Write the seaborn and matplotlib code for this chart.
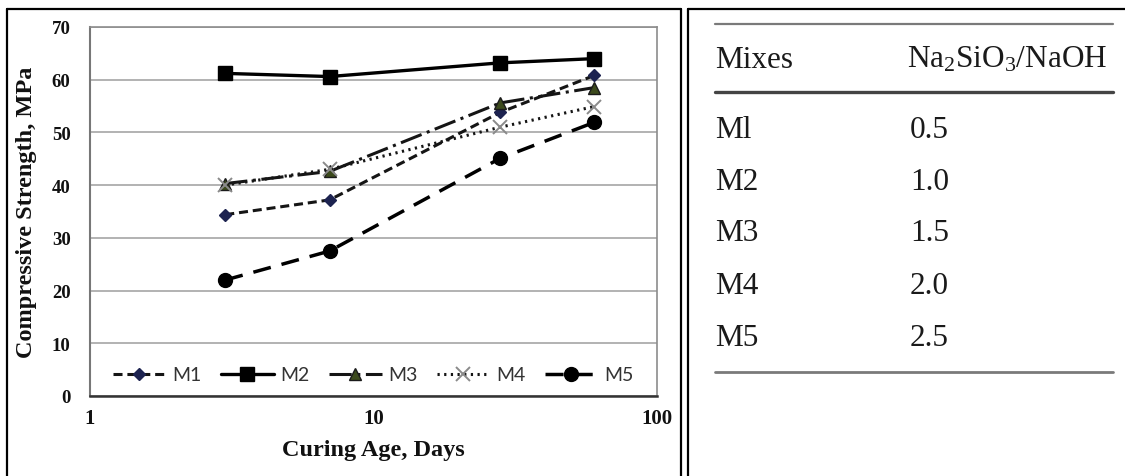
import matplotlib
matplotlib.use("Agg")
import matplotlib.pyplot as plt
from matplotlib.lines import Line2D
from matplotlib.ticker import FixedLocator, FixedFormatter, NullFormatter, LogLocator
import seaborn as sns
import pandas as pd

# Curing ages (days) and compressive strength (MPa) per mix
ages = [3, 7, 28, 60]
mixes = ["M1", "M2", "M3", "M4", "M5"]
m1 = [34.4, 37.2, 53.8, 60.8]
m2 = [61.2, 60.6, 63.2, 64.0]
m3 = [40.3, 42.6, 55.6, 58.5]
m4 = [40.0, 43.0, 51.0, 54.9]
m5 = [22.0, 27.5, 45.1, 51.9]

# Mix-design table
table_mixes = ["Ml", "M2", "M3", "M4", "M5"]
table_ratio = ["0.5", "1.0", "1.5", "2.0", "2.5"]

sns.set_style("white")
plt.rcParams["font.family"] = ["Liberation Serif", "DejaVu Serif"]
plt.rcParams["mathtext.fontset"] = "custom"
plt.rcParams["mathtext.rm"] = "Liberation Serif"
plt.rcParams["mathtext.it"] = "Liberation Serif:italic"
plt.rcParams["lines.scale_dashes"] = False

W, H = 1125, 477
fig = plt.figure(figsize=(W / 100, H / 100), dpi=100)
fig.patch.set_facecolor("white")


def fx(px):
    return px / W


def fy(py):
    return 1 - py / H


ax = fig.add_axes([fx(90), fy(397), fx(657) - fx(90), fy(28) - fy(397)])

df = pd.DataFrame({
    "age": ages * 5,
    "strength": m1 + m2 + m3 + m4 + m5,
    "mix": [m for m in mixes for _ in ages],
})

styles = {
    "M1": dict(color="#151515", linestyle=(0, (6.5, 3.5)), lw=2.2, marker="D", ms=6,
               markerfacecolor="#1d2350", markeredgecolor="#1d2350"),
    "M2": dict(color="#000000", linestyle="-", lw=2.4, marker="s", ms=10,
               markerfacecolor="#000000", markeredgecolor="#000000"),
    "M3": dict(color="#151515", linestyle=(0, (16, 4, 2.2, 4)), lw=2.2, marker="^", ms=9,
               markerfacecolor="#3c4a1c", markeredgecolor="#1a1a1a"),
    "M4": dict(color="#151515", linestyle=(0, (1.6, 3.2)), lw=2.2, marker="x", ms=10,
               markerfacecolor="#888888", markeredgecolor="#8a8a8a"),
    "M5": dict(color="#000000", linestyle=(0, (13, 8)), lw=2.5, marker="o", ms=10,
               markerfacecolor="#000000", markeredgecolor="#000000"),
}

for mix in mixes:
    st = styles[mix]
    sub = df[df["mix"] == mix]
    sns.lineplot(data=sub, x="age", y="strength", ax=ax, label=mix,
                 color=st["color"], linestyle=st["linestyle"], linewidth=st["lw"],
                 marker=st["marker"], markersize=st["ms"],
                 markerfacecolor=st["markerfacecolor"],
                 markeredgecolor=st["markeredgecolor"],
                 markeredgewidth=1.4 if mix == "M4" else 1.0,
                 errorbar=None, zorder=3)

ax.set_xscale("log")
ax.set_xlim(1, 100)
ax.set_ylim(0, 70)
ax.xaxis.set_major_locator(FixedLocator([1, 10, 100]))
ax.xaxis.set_major_formatter(FixedFormatter(["1", "10", "100"]))
ax.xaxis.set_minor_locator(LogLocator(base=10, subs=range(2, 10)))
ax.xaxis.set_minor_formatter(NullFormatter())
ax.set_yticks(range(0, 71, 10))

ax.tick_params(axis="x", which="both", direction="in", length=4, width=1,
               color="#555555", pad=9)
ax.tick_params(axis="x", which="major", labelsize=15)
ax.tick_params(axis="y", direction="out", length=5, width=1, color="#777777",
               labelsize=13.5, pad=9)
for lab in ax.get_xticklabels() + ax.get_yticklabels():
    lab.set_fontweight("bold")
    lab.set_color("#111111")

ax.yaxis.grid(True, color="#a5a5a5", linewidth=1.2, zorder=0)
ax.xaxis.grid(False)
ax.set_axisbelow(True)

for side in ["top", "right"]:
    ax.spines[side].set_color("#8c8c8c")
    ax.spines[side].set_linewidth(1.2)
ax.spines["left"].set_color("#777777")
ax.spines["left"].set_linewidth(1.5)
ax.spines["bottom"].set_color("#333333")
ax.spines["bottom"].set_linewidth(1.8)

ax.set_xlabel("Curing Age, Days", fontsize=17.5, fontweight="bold", color="#111111")
ax.set_ylabel("Compressive Strength, MPa", fontsize=17.5, fontweight="bold",
              color="#111111")
ax.xaxis.set_label_coords(0.5, (397 - 440) / 369)
ax.xaxis.label.set_va("top")
ax.yaxis.set_label_coords((37 - 90) / 567, 0.5)

handles, labels = ax.get_legend_handles_labels()
leg = ax.legend(handles, labels, loc="center", bbox_to_anchor=(0.5, 0.057),
                ncol=5, frameon=False, handlelength=2.7, handletextpad=0.35,
                columnspacing=1.0, prop={"family": "Lato", "size": 14})
for t in leg.get_texts():
    t.set_color("#333333")

# Panel frames
frame_kw = dict(color="black", linewidth=1.6, transform=fig.transFigure)
fig.add_artist(Line2D([fx(7), fx(7)], [fy(10), 0], **frame_kw))
fig.add_artist(Line2D([fx(7), fx(681)], [fy(10), fy(10)], **frame_kw))
fig.add_artist(Line2D([fx(681), fx(681)], [fy(10), 0], **frame_kw))
fig.add_artist(Line2D([fx(688), fx(688)], [fy(10), 0], **frame_kw))
fig.add_artist(Line2D([fx(688), 1], [fy(10), fy(10)], **frame_kw))

# Table rules
x0, x1 = fx(715), fx(1113)
fig.add_artist(Line2D([x0, x1], [fy(25), fy(25)], color="#7a7a7a", linewidth=1.6,
                      transform=fig.transFigure))
fig.add_artist(Line2D([x0, x1], [fy(93), fy(93)], color="#444444", linewidth=2.4,
                      transform=fig.transFigure))
fig.add_artist(Line2D([x0, x1], [fy(373), fy(373)], color="#7a7a7a", linewidth=2.0,
                      transform=fig.transFigure))

tkw = dict(fontsize=22.5, color="#1a1a1a", va="center", ha="left")
fig.text(fx(715), fy(60), "Mixes", **tkw)
fig.text(fx(907), fy(60), "Na$_\\mathrm{2}$SiO$_\\mathrm{3}$/NaOH", **tkw)
row_y = [130, 182, 234, 286, 338]
for name, ratio, yy in zip(table_mixes, table_ratio, row_y):
    fig.text(fx(715), fy(yy), name, **tkw)
    fig.text(fx(910), fy(yy), ratio, **tkw)

fig.savefig("out.png", dpi=100, facecolor="white")
